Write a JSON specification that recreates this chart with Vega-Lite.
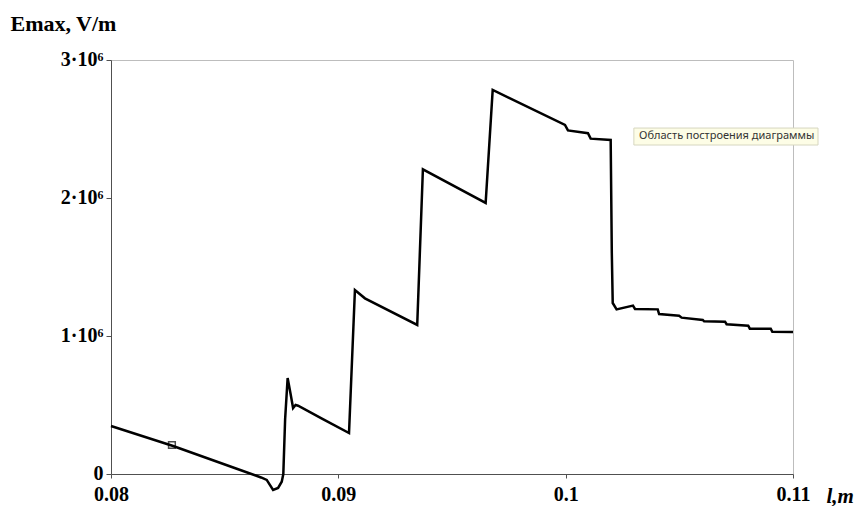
{
  "$schema": "https://vega.github.io/schema/vega-lite/v6.json",
  "width": 682,
  "height": 414,
  "autosize": {"type": "none"},
  "padding": {"left": 111, "top": 60, "right": 70, "bottom": 32},
  "background": "white",
  "config": {
    "view": {"stroke": "#bdbdbd", "strokeWidth": 1},
    "axis": {"grid": false, "domainColor": "#505050", "tickColor": "#505050", "labelColor": "black", "titleColor": "black"}
  },
  "datasets": {
    "curve": [
      {"l": 0.0800, "E": 348000},
      {"l": 0.0827, "E": 205000},
      {"l": 0.0855, "E": 40000},
      {"l": 0.0866, "E": -25000},
      {"l": 0.08685, "E": -43000},
      {"l": 0.08713, "E": -116000},
      {"l": 0.08735, "E": -101000},
      {"l": 0.08751, "E": -56000},
      {"l": 0.08758, "E": 0},
      {"l": 0.08766, "E": 400000},
      {"l": 0.08777, "E": 696000},
      {"l": 0.08790, "E": 580000},
      {"l": 0.08801, "E": 478000},
      {"l": 0.08812, "E": 500000},
      {"l": 0.08823, "E": 495000},
      {"l": 0.0893, "E": 400000},
      {"l": 0.09047, "E": 297000},
      {"l": 0.09073, "E": 1333000},
      {"l": 0.09117, "E": 1273000},
      {"l": 0.09347, "E": 1080000},
      {"l": 0.09372, "E": 2208000},
      {"l": 0.09648, "E": 1964000},
      {"l": 0.09679, "E": 2783000},
      {"l": 0.09997, "E": 2529000},
      {"l": 0.10010, "E": 2490000},
      {"l": 0.10098, "E": 2470000},
      {"l": 0.10110, "E": 2430000},
      {"l": 0.10198, "E": 2420000},
      {"l": 0.10203, "E": 1600000},
      {"l": 0.10207, "E": 1239000},
      {"l": 0.10224, "E": 1193000},
      {"l": 0.10296, "E": 1220000},
      {"l": 0.10305, "E": 1196000},
      {"l": 0.10405, "E": 1193000},
      {"l": 0.10411, "E": 1159000},
      {"l": 0.10499, "E": 1147000},
      {"l": 0.10510, "E": 1133000},
      {"l": 0.10603, "E": 1116000},
      {"l": 0.10609, "E": 1106000},
      {"l": 0.10701, "E": 1104000},
      {"l": 0.10708, "E": 1085000},
      {"l": 0.10803, "E": 1075000},
      {"l": 0.10810, "E": 1053000},
      {"l": 0.10902, "E": 1053000},
      {"l": 0.10909, "E": 1031000},
      {"l": 0.11000, "E": 1029000}
    ],
    "marker": [{"l": 0.08268, "E": 210000}],
    "tipbox": [{"l": 0.10300, "l2": 0.11110, "E": 2507000, "E2": 2384000}],
    "tiptext": [{"l": 0.10323, "E": 2446000, "label": "Область построения диаграммы"}]
  },
  "layer": [
    {
      "data": {"name": "curve"},
      "mark": {"type": "line", "color": "black", "strokeWidth": 2.5, "clip": false},
      "encoding": {
        "x": {
          "field": "l", "type": "quantitative",
          "scale": {"domain": [0.08, 0.11], "nice": false, "zero": false},
          "axis": {
            "values": [0.08, 0.09, 0.1, 0.11],
            "format": ".2~f",
            "labelFont": "Liberation Serif", "labelFontWeight": "bold", "labelFontSize": 20,
            "labelBaseline": "top", "labelPadding": 6, "tickSize": 4,
            "labelFlush": false, "labelOverlap": false,
            "title": "l,m",
            "titleFont": "Liberation Serif", "titleFontWeight": "bold", "titleFontStyle": "italic", "titleFontSize": 21,
            "titleAlign": "left", "titleBaseline": "alphabetic",
            "titleX": 715, "titleY": 28
          }
        },
        "y": {
          "field": "E", "type": "quantitative",
          "scale": {"domain": [0, 3000000], "nice": false, "zero": false},
          "axis": {
            "values": [0, 1000000, 2000000, 3000000],
            "labelExpr": "datum.value == 0 ? '0' : format(datum.value / 1000000, 'd') + '·10⁶'",
            "labelFont": "Liberation Serif", "labelFontWeight": "bold", "labelFontSize": 20,
            "labelBaseline": "alphabetic", "labelOffset": 5, "labelPadding": 3, "tickSize": 5,
            "labelFlush": false, "labelOverlap": false,
            "title": "Emax, V/m",
            "titleFont": "Liberation Serif", "titleFontWeight": "bold", "titleFontSize": 22,
            "titleAngle": 0, "titleAlign": "left", "titleBaseline": "alphabetic",
            "titleX": -101, "titleY": -30
          }
        }
      }
    },
    {
      "data": {"name": "marker"},
      "mark": {"type": "point", "shape": "square", "filled": false, "color": "black", "size": 45, "strokeWidth": 1.5},
      "encoding": {
        "x": {"field": "l", "type": "quantitative"},
        "y": {"field": "E", "type": "quantitative"}
      }
    },
    {
      "data": {"name": "tipbox"},
      "mark": {"type": "rect", "fill": "#fdfde6", "stroke": "#d6d6c0", "strokeWidth": 1, "clip": false},
      "encoding": {
        "x": {"field": "l", "type": "quantitative"},
        "x2": {"field": "l2"},
        "y": {"field": "E", "type": "quantitative"},
        "y2": {"field": "E2"}
      }
    },
    {
      "data": {"name": "tiptext"},
      "mark": {"type": "text", "font": "Noto Sans", "fontSize": 11, "color": "#333333", "align": "left", "baseline": "middle"},
      "encoding": {
        "x": {"field": "l", "type": "quantitative"},
        "y": {"field": "E", "type": "quantitative"},
        "text": {"field": "label"}
      }
    }
  ]
}
